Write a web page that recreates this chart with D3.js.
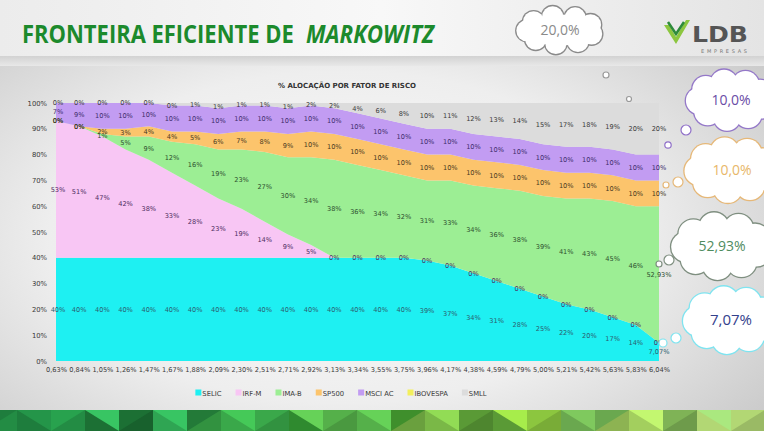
<!DOCTYPE html>
<html><head><meta charset="utf-8">
<script src="https://cdn.jsdelivr.net/npm/d3@7/dist/d3.min.js"></script>
<style>html,body{margin:0;padding:0;background:#fff;}svg{display:block;}</style>
</head><body>
<svg id="c" width="764" height="431"></svg>
<script>
const categories = ["0,63%","0,84%","1,05%","1,26%","1,47%","1,67%","1,88%","2,09%","2,30%","2,51%","2,71%","2,92%","3,13%","3,34%","3,55%","3,75%","3,96%","4,17%","4,38%","4,59%","4,79%","5,00%","5,21%","5,42%","5,63%","5,83%","6,04%"];
const SELIC    = [40,40,40,40,40,40,40,40,40,40,40,40,40,40,40,40,39,37,34,31,28,25,22,20,17,14,7.07];
const IRFM     = [53,51,47,42,38,33,28,23,19,14,9,5,0,0,0,0,0,0,0,0,0,0,0,0,0,0,0];
const IMAB     = [0,0,1,5,9,12,16,19,23,27,30,34,38,36,34,32,31,33,34,36,38,39,41,43,45,46,52.93];
const SP500    = [0,0,2,3,4,4,5,6,7,8,9,10,10,10,10,10,10,10,10,10,10,10,10,10,10,10,10];
const MSCIAC   = [7,9,10,10,10,10,10,10,10,10,10,10,10,10,10,10,10,10,10,10,10,10,10,10,10,10,10];
const IBOVESPA = [0,0,0,0,0,0,0,0,0,0,0,0,0,0,0,0,0,0,0,0,0,0,0,0,0,0,0];
const SMLL     = [0,0,0,0,0,0,1,1,1,1,1,2,2,4,6,8,10,11,12,13,14,15,17,18,19,20,20];
const seriesNames = ["SELIC","IRF-M","IMA-B","SP500","MSCI AC","IBOVESPA","SMLL"];
const yTicks = [0,10,20,30,40,50,60,70,80,90,100];
const bubbleValues = ["20,0%","10,0%","10,0%","52,93%","7,07%"];

const seriesData = [SELIC, IRFM, IMAB, SP500, MSCIAC, IBOVESPA, SMLL];
const colors = ["#1ef0f2","#f8c6f4","#9cee94","#fcc46c","#c29cf2","#f3ef5c","#dcdcdc"];
const labelColors = ["#2c5e70","#4e2e62","#2f5030","#4a3a22","#3e2c6c",null,"#3a3a3a"];

const svg = d3.select("#c");
const defs = svg.append("defs");
const rg = defs.append("radialGradient").attr("id","bg").attr("cx","45%").attr("cy","55%").attr("r","70%");
rg.append("stop").attr("offset","0%").attr("stop-color","#fbfbfb");
rg.append("stop").attr("offset","55%").attr("stop-color","#eeeeee");
rg.append("stop").attr("offset","100%").attr("stop-color","#c9c9c9");
const hg = defs.append("linearGradient").attr("id","hd").attr("x1","0").attr("x2","1").attr("y1","0").attr("y2","0");
hg.append("stop").attr("offset","0%").attr("stop-color","#ececec");
hg.append("stop").attr("offset","50%").attr("stop-color","#f8f8f8");
hg.append("stop").attr("offset","100%").attr("stop-color","#e4e4e4");
const sg = defs.append("linearGradient").attr("id","sh").attr("x1","0").attr("x2","0").attr("y1","0").attr("y2","1");
sg.append("stop").attr("offset","0%").attr("stop-color","#d2d2d2");
sg.append("stop").attr("offset","100%").attr("stop-color","#e8e8e8");

svg.append("rect").attr("width",764).attr("height",431).attr("fill","url(#bg)");
svg.append("rect").attr("width",764).attr("height",56).attr("fill","url(#hd)");
svg.append("rect").attr("y",56).attr("width",764).attr("height",10).attr("fill","url(#sh)");

// Header title (horizontally condensed via transform)
function fitText(str, x0, width, italic) {
  const t = svg.append("text").attr("x",0).attr("y",0)
    .attr("font-family","'Open Sans', sans-serif").attr("font-weight",700).attr("font-size",25)
    .attr("font-style", italic ? "italic" : "normal").attr("fill","#1c8a2c").text(str);
  const w = t.node().getComputedTextLength();
  t.attr("transform", `translate(${x0},43) scale(${width / w},1)`);
}
fitText("FRONTEIRA EFICIENTE DE", 22, 272, false);
fitText("MARKOWITZ", 306, 128, true);

// Logo
const logo = svg.append("g");
logo.append("path").attr("d","M664,25 L676,44 L690,20 L686,20 L676,37 L669,25 Z").attr("fill","#8cc63f");
logo.append("path").attr("d","M668,22 L676,34 L684,22").attr("fill","none").attr("stroke","#2e8b3a").attr("stroke-width",2.5);
logo.append("text").attr("x",692).attr("y",42).attr("font-family","'DejaVu Sans', sans-serif").attr("font-weight",700)
  .attr("font-size",21).attr("fill","#555").attr("textLength",56).attr("lengthAdjust","spacingAndGlyphs").text("LDB");
logo.append("text").attr("x",701).attr("y",53).attr("font-family","'DejaVu Sans', sans-serif")
  .attr("font-size",5).attr("fill","#777").attr("textLength",46).attr("lengthAdjust","spacing").text("EMPRESAS");

// Chart
const x = d3.scalePoint().domain(categories).range([56, 659]);
const y = d3.scaleLinear().domain([0, 100]).range([361, 103]).clamp(true);

const rows = categories.map((c, i) => {
  const o = {cat: c};
  seriesNames.forEach((s, k) => o[s] = seriesData[k][i]);
  return o;
});
const stack = d3.stack().keys(seriesNames);
const layers = stack(rows);

const area = d3.area().x(d => x(d.data.cat)).y0(d => y(d[0])).y1(d => y(d[1]));
const areaTop = d3.area().x(d => x(d.data.cat)).y0(d => y(d[0])).y1(() => y(100));
svg.append("g").selectAll("path").data(layers).join("path")
  .attr("d", (d, i) => i === layers.length - 1 ? areaTop(d) : area(d)).attr("fill", (d, i) => colors[i]);

// chart title
svg.append("text").attr("x",347).attr("y",88).attr("text-anchor","middle")
  .attr("font-family","'DejaVu Sans', sans-serif").attr("font-weight",700).attr("font-size",7)
  .attr("fill","#333").text("% ALOCAÇÃO POR FATOR DE RISCO");

// y axis
const yAxis = d3.axisLeft(y).tickValues(yTicks).tickFormat(d => d + "%").tickSize(0).tickPadding(0);
const ya = svg.append("g").attr("transform","translate(47,0)").call(yAxis);
ya.select(".domain").remove();
ya.selectAll("text").attr("font-family","'DejaVu Sans', sans-serif").attr("font-size",6.8).attr("fill","#3a3a3a");

// x axis
const xAxis = d3.axisBottom(x).tickSize(0).tickPadding(0);
const xa = svg.append("g").attr("transform","translate(0,367)").call(xAxis);
xa.select(".domain").remove();
xa.selectAll("text").attr("font-family","'DejaVu Sans', sans-serif").attr("font-size",6.6).attr("fill","#3a3a3a");

// data labels
const fmt = v => (Number.isInteger(v) ? v : v.toFixed(2).replace(".", ",")) + "%";
const lg = svg.append("g").attr("font-family","'DejaVu Sans', sans-serif").attr("font-size",6.6).attr("text-anchor","middle");
layers.forEach((layer, k) => {
  if (!labelColors[k]) return;
  lg.append("g").selectAll("text").data(layer).join("text")
    .attr("x", d => x(d.data.cat) + (x(d.data.cat) === x.range()[0] ? 2 : 0))
    .attr("y", d => y((d[0] + Math.min(d[1], 100)) / 2) + 2.4)
    .attr("fill", labelColors[k])
    .text(d => fmt(d.data[layer.key]));
});

// legend
const leg = svg.append("g").attr("font-family","'DejaVu Sans', sans-serif").attr("font-size",6.8).attr("fill","#3a3a3a");
const items = [];
seriesNames.forEach((s, i) => {
  const g = leg.append("g");
  g.append("rect").attr("x",0).attr("y",-3.5).attr("width",6).attr("height",6).attr("fill",colors[i]);
  const t = g.append("text").attr("x",7).attr("y",2.5).text(s);
  const w = 7 + t.node().getComputedTextLength();
  items.push({g, w});
});
const gap = 14;
const total = d3.sum(items, d => d.w) + gap * (items.length - 1);
let lx = 341 - total / 2;
items.forEach(it => { it.g.attr("transform", `translate(${lx},393)`); lx += it.w + gap; });

// clouds
function cloud(cx, cy, rx, ry, stroke, label, tcolor, fs) {
  const g = svg.append("g");
  const n = 9;
  const bumps = d3.range(n).map(i => {
    const a = 2 * Math.PI * i / n + 0.3;
    return {x: cx + rx * 0.72 * Math.cos(a), y: cy + ry * 0.62 * Math.sin(a), r: Math.min(rx, ry) * 0.48};
  });
  g.selectAll(".o").data(bumps).join("circle").attr("cx", d => d.x).attr("cy", d => d.y).attr("r", d => d.r + 1.3).attr("fill", stroke);
  g.selectAll(".i").data(bumps).join("circle").attr("cx", d => d.x).attr("cy", d => d.y).attr("r", d => d.r).attr("fill", "#fff");
  g.append("ellipse").attr("cx", cx).attr("cy", cy).attr("rx", rx * 0.75).attr("ry", ry * 0.7).attr("fill", "#fff");
  g.append("text").attr("x", cx).attr("y", cy + fs * 0.35).attr("text-anchor","middle")
    .attr("font-family","'Open Sans', sans-serif").attr("font-size", fs).attr("fill", tcolor).text(label);
}
function bubble(cx, cy, r, stroke) {
  svg.append("circle").attr("cx",cx).attr("cy",cy).attr("r",r).attr("fill","#fff").attr("stroke",stroke).attr("stroke-width",1.2);
}
cloud(560, 30, 46, 22, "#8a8a8a", bubbleValues[0], "#8a8a8a", 14);
bubble(606, 75, 3, "#9a9a9a");
bubble(629, 99, 2.5, "#9a9a9a");
bubble(686, 130, 5, "#8f6fc8");
bubble(668, 145, 3.2, "#8f6fc8");
cloud(731, 100, 44, 28, "#9478c8", bubbleValues[1], "#6a4ca6", 14);
bubble(666, 185, 3, "#e6b878");
bubble(678, 182, 5, "#e6b878");
cloud(732, 170, 46, 30, "#e6b878", bubbleValues[2], "#e8b76a", 14);
bubble(659, 264, 3, "#7f8f80");
bubble(669, 260, 5, "#7f8f80");
cloud(722, 246, 50, 31, "#7f8f80", bubbleValues[3], "#4f8c5f", 14);
bubble(663, 343, 4, "#7fe4f0");
bubble(676, 338, 5, "#7fe4f0");
cloud(731, 320, 46, 31, "#7fe4f0", bubbleValues[4], "#33418c", 15);

// bottom stripe of triangles
const stripe = svg.append("g");
const triColors = ["#1e7d3d","#28a24e","#1c7034","#2fa553","#237a38","#3aa84a","#2f8a2f","#55b04a","#3f8f2c","#7ab847","#5a9a36","#8cc63f","#6aa84f","#a3cf5e","#7fb356","#b2d774","#8ec26a","#c2df86"];
const tw = 34, stripeTop = 410;
const nTri = Math.ceil(764 / tw) + 2;
d3.range(nTri).forEach(i => {
  const x0 = i * tw - tw / 2;
  const up = i % 2 === 0;
  const idx = Math.min(triColors.length - 1, Math.floor(i / nTri * triColors.length));
  const c1 = triColors[idx];
  const c2 = triColors[Math.min(triColors.length - 1, idx + (i % 3 === 0 ? 1 : 0))];
  stripe.append("rect").attr("x", x0).attr("y", stripeTop).attr("width", tw + 1).attr("height", 21).attr("fill", c1);
  stripe.append("path").attr("d", up ? `M${x0},431 L${x0 + tw},${stripeTop} L${x0 + tw},431 Z` : `M${x0},${stripeTop} L${x0 + tw},431 L${x0 + tw},${stripeTop} Z`)
    .attr("fill", i % 2 ? d3.color(c2).brighter(0.5) : d3.color(c2).darker(0.4));
});
</script>
</body></html>
